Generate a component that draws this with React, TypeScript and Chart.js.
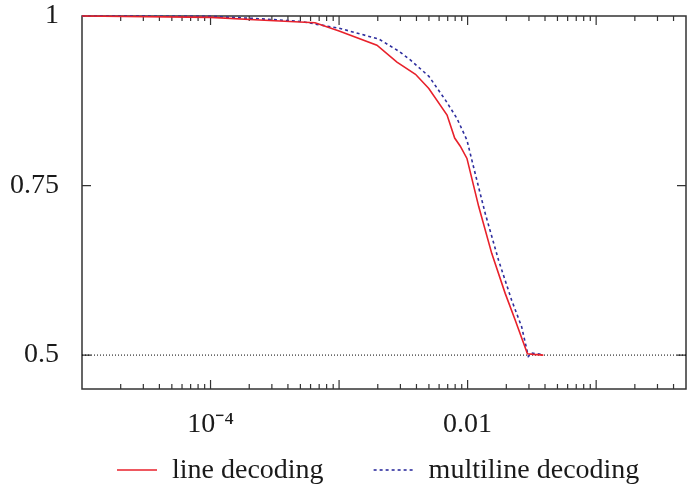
import React, { useEffect, useRef } from "react";
import { Chart, registerables } from "chart.js";

Chart.register(...registerables);

// ---- data ----
const SERIES_LABELS = ["line decoding", "multiline decoding"];

const LINE_X = [1e-5, 1e-4, 2.4e-4, 6.5e-4, 1e-3, 1.97e-3, 2.82e-3, 3.93e-3, 4.99e-3, 6.92e-3, 7.93e-3, 8.77e-3, 9.88e-3, 1.22e-2, 1.54e-2, 1.96e-2, 2.34e-2, 2.92e-2, 3.25e-2, 3.88e-2];
const LINE_Y = [1.0, 0.998, 0.994, 0.99, 0.978, 0.957, 0.932, 0.914, 0.893, 0.854, 0.82, 0.808, 0.79, 0.719, 0.65, 0.591, 0.552, 0.502, 0.501, 0.5];

const MULTI_X = [1e-5, 1e-4, 2.4e-4, 5e-4, 1e-3, 2.04e-3, 2.92e-3, 3.6e-3, 5e-3, 6.72e-3, 8.26e-3, 9.88e-3, 1.11e-2, 1.37e-2, 1.74e-2, 2.2e-2, 2.63e-2, 2.97e-2, 3.15e-2, 3.77e-2];
const MULTI_Y = [1.0, 0.9995, 0.996, 0.992, 0.982, 0.966, 0.948, 0.935, 0.911, 0.876, 0.849, 0.817, 0.778, 0.709, 0.64, 0.581, 0.542, 0.498, 0.503, 0.501];

const REF_X = [1e-5, 0.5];
const REF_Y = [0.5, 0.5];

const X_MIN = 1e-5;
const X_MAX = 0.5;
const Y_MIN = 0.45;
const Y_MAX = 1;

const X_TICKS = [1e-4, 1e-2];
const X_TICK_LABELS = ["10\u207B\u2074", "0.01"];
const Y_TICKS = [0.5, 0.75, 1];
const Y_TICK_LABELS = ["0.5", "0.75", "1"];

// ---- styles ----
const FONT_FAMILY = "'Liberation Serif', 'Times New Roman', serif";
const FONT_SIZE = 28;
const TEXT_COLOR = "#1a1a1a";
const FRAME_COLOR = "#333333";
const RED = "#e8212b";
const BLUE = "#2e2e9e";

const toPoints = (xs: number[], ys: number[]) => xs.map((x, i) => ({ x, y: ys[i] }));

const framePlugin = {
  id: "frameTicks",
  beforeDatasetsDraw(chart: any) {
    const { ctx, chartArea, scales } = chart;
    const { left, right, top, bottom } = chartArea;
    const x = scales.x;
    const y = scales.y;
    ctx.save();
    ctx.strokeStyle = FRAME_COLOR;
    ctx.lineWidth = 1.5;
    ctx.strokeRect(left, top, right - left, bottom - top);
    ctx.lineWidth = 1.2;
    ctx.beginPath();
    const minE = Math.floor(Math.log10(x.min));
    const maxE = Math.ceil(Math.log10(x.max));
    for (let e = minE; e <= maxE; e++) {
      for (let m = 1; m <= 9; m++) {
        const v = m * Math.pow(10, e);
        if (v <= x.min * 1.0001 || v >= x.max * 0.9999) continue;
        const px = x.getPixelForValue(v);
        const len = m === 1 ? 9 : 5;
        ctx.moveTo(px, bottom);
        ctx.lineTo(px, bottom - len);
        ctx.moveTo(px, top);
        ctx.lineTo(px, top + len);
      }
    }
    for (const v of Y_TICKS) {
      if (v >= y.max || v <= y.min) continue;
      const py = y.getPixelForValue(v);
      ctx.moveTo(left, py);
      ctx.lineTo(left + 9, py);
      ctx.moveTo(right, py);
      ctx.lineTo(right - 9, py);
    }
    ctx.stroke();
    ctx.restore();
  },
};

const legendPlugin = {
  id: "bottomLegend",
  afterDraw(chart: any) {
    const { ctx, chartArea } = chart;
    ctx.save();
    ctx.font = `${FONT_SIZE}px ${FONT_FAMILY}`;
    ctx.textBaseline = "alphabetic";
    ctx.textAlign = "left";
    let xPos = chartArea.left + 35;
    const lineY = chart.height - 15;
    const textY = chart.height - 7;
    chart.data.datasets.forEach((ds: any) => {
      if (!ds.label) return;
      ctx.strokeStyle = ds.borderColor;
      ctx.lineWidth = ds.borderWidth;
      ctx.setLineDash(ds.borderDash || []);
      ctx.beginPath();
      ctx.moveTo(xPos, lineY);
      ctx.lineTo(xPos + 40, lineY);
      ctx.stroke();
      ctx.setLineDash([]);
      ctx.fillStyle = TEXT_COLOR;
      ctx.fillText(ds.label, xPos + 55, textY);
      xPos += 55 + ctx.measureText(ds.label).width + 50;
    });
    ctx.restore();
  },
};

export default function App() {
  const canvasRef = useRef<HTMLCanvasElement | null>(null);

  useEffect(() => {
    const canvas = canvasRef.current;
    if (!canvas) return;
    const chart = new Chart(canvas, {
      type: "line",
      data: {
        datasets: [
          {
            label: SERIES_LABELS[0],
            data: toPoints(LINE_X, LINE_Y),
            borderColor: RED,
            backgroundColor: RED,
            borderWidth: 1.6,
            pointRadius: 0,
            tension: 0,
            clip: 6,
          },
          {
            label: SERIES_LABELS[1],
            data: toPoints(MULTI_X, MULTI_Y),
            borderColor: BLUE,
            backgroundColor: BLUE,
            borderWidth: 1.6,
            borderDash: [3, 3],
            pointRadius: 0,
            tension: 0,
            clip: 6,
          },
          {
            label: "",
            data: toPoints(REF_X, REF_Y),
            borderColor: "#000000",
            borderWidth: 1,
            borderDash: [1, 2],
            pointRadius: 0,
            tension: 0,
          },
        ],
      } as any,
      options: {
        animation: false,
        responsive: false,
        maintainAspectRatio: false,
        layout: { padding: { top: 16, right: 14, left: 0, bottom: 0 } },
        plugins: {
          legend: { display: false },
          tooltip: { enabled: false },
        },
        scales: {
          x: {
            type: "logarithmic",
            min: X_MIN,
            max: X_MAX,
            grid: { display: false, drawTicks: false },
            border: { display: false },
            afterBuildTicks: (scale: any) => {
              scale.ticks = X_TICKS.map((v) => ({ value: v }));
            },
            afterFit: (scale: any) => {
              scale.height = 96;
              scale.paddingLeft = 0;
              scale.paddingRight = 0;
            },
            ticks: {
              autoSkip: false,
              maxRotation: 0,
              minRotation: 0,
              padding: 19,
              color: TEXT_COLOR,
              font: { family: FONT_FAMILY, size: FONT_SIZE },
              callback: (value: any) => {
                const i = X_TICKS.findIndex((t) => Math.abs(t - Number(value)) / t < 1e-6);
                return i >= 0 ? X_TICK_LABELS[i] : "";
              },
            },
          },
          y: {
            type: "linear",
            min: Y_MIN,
            max: Y_MAX,
            grid: { display: false, drawTicks: false },
            border: { display: false },
            afterBuildTicks: (scale: any) => {
              scale.ticks = Y_TICKS.map((v) => ({ value: v }));
            },
            afterFit: (scale: any) => {
              scale.width = 82;
              scale.paddingTop = 0;
              scale.paddingBottom = 0;
            },
            ticks: {
              autoSkip: false,
              padding: 23,
              color: TEXT_COLOR,
              font: { family: FONT_FAMILY, size: FONT_SIZE },
              callback: (value: any) => {
                const i = Y_TICKS.findIndex((t) => Math.abs(t - Number(value)) < 1e-9);
                return i >= 0 ? Y_TICK_LABELS[i] : "";
              },
            },
          },
        },
      } as any,
      plugins: [framePlugin, legendPlugin],
    });
    return () => chart.destroy();
  }, []);

  return (
    <div style={{ position: "absolute", left: 0, top: 0, width: 700, height: 485, background: "#ffffff" }}>
      <canvas ref={canvasRef} width={700} height={485} style={{ display: "block" }} />
    </div>
  );
}
